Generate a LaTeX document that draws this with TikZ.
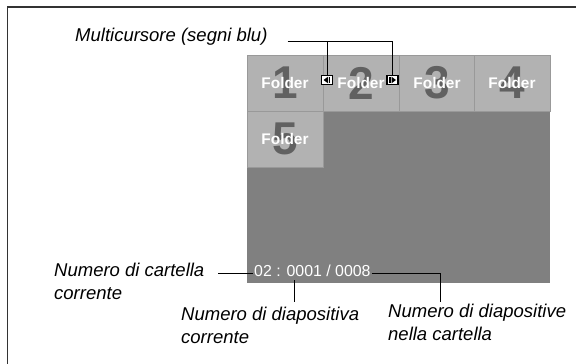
\documentclass[tikz,border=0pt]{standalone}
\usepackage{fontspec}
\setmainfont{Liberation Sans}
\usepackage{xcolor}
\usepackage{tikz}
\usetikzlibrary{positioning, calc}

\begin{document}
\begin{tikzpicture}[x=1pt, y=-1pt,
  tile/.style={draw=black!40, line width=1pt, fill=black!30, minimum width=76pt, minimum height=56pt, inner sep=0pt, text=black!62, font=\bfseries\fontsize{46}{46}\selectfont},
  folder/.style={text=white, inner sep=0pt, font=\bfseries\fontsize{15.4}{16}\selectfont},
  callout/.style={align=left, inner sep=0pt, anchor=north west, font=\itshape\fontsize{18.5}{22.5}\selectfont},
  cursor/.style={draw, line width=1.2pt, fill=white, minimum width=11pt, minimum height=9pt, inner sep=0pt},
  leader/.style={line width=0.9pt}]
  \useasboundingbox (0,0) rectangle (576,364);
  \draw [line width=1.6pt, black!80] (7.5,364) -- (7.5,7) -- (576,7);

  % screen and folder tiles
  \node (screen) [fill=black!50, minimum width=303pt, minimum height=228pt, inner sep=0pt, anchor=north west] at (247,55) {};
  \foreach \n/\x in {1/285, 2/361, 3/437, 4/512} {
    \node (t\n) [tile] at (\x,83) {\n};
    \node (f\n) [folder] at (t\n) {Folder};
  }
  \node (t5) [tile] at (285,139) {5};
  \node (f5) [folder] at (t5) {Folder};

  \node (count) [inner sep=0pt, anchor=base west, text=white, font=\fontsize{15.9}{18}\selectfont] at (254,276) {02 : 0001 / 0008};

  % multicursor marks
  \node (curL) [cursor] at (327,80) {};
  \fill ($(curL)+(-3.5,0)$) -- ++(4.5,-3.3) -- ++(0,6.6) -- cycle;
  \fill ($(curL)+(1.6,-3.3)$) rectangle ++(1.5,6.6);
  \node (curR) [cursor] at (392.5,80) {};
  \fill ($(curR)+(3.5,0)$) -- ++(-4.5,-3.3) -- ++(0,6.6) -- cycle;
  \fill ($(curR)+(-1.6,-3.3)$) rectangle ++(-1.5,6.6);

  % callouts
  \node (multi) [callout] at (75,28) {Multicursore (segni blu)};
  \node (cartella) [callout] at (54,263) {Numero di cartella\\corrente};
  \node (diapositiva) [callout] at (181,307) {Numero di diapositiva\\corrente};
  \node (diapositive) [callout] at (388,304) {Numero di diapositive\\nella cartella};

  \draw [leader] ([xshift=20pt]multi.base east) -| (curR.north);
  \draw [leader] (curL.north) -- (curL.north |- multi.base);
  \draw [leader] ($(count.base west)+(-1,-3)$) -- ($(cartella.north east)+(13,10)$);
  \draw [leader] ($(count.base west)+(40,4)$) -- ($(diapositiva.north west)+(113,-5)$);
  \draw [leader] ($(count.base east)+(1,-3)$) -| ($(diapositive.north west)+(52,-2)$);
\end{tikzpicture}
\end{document}
